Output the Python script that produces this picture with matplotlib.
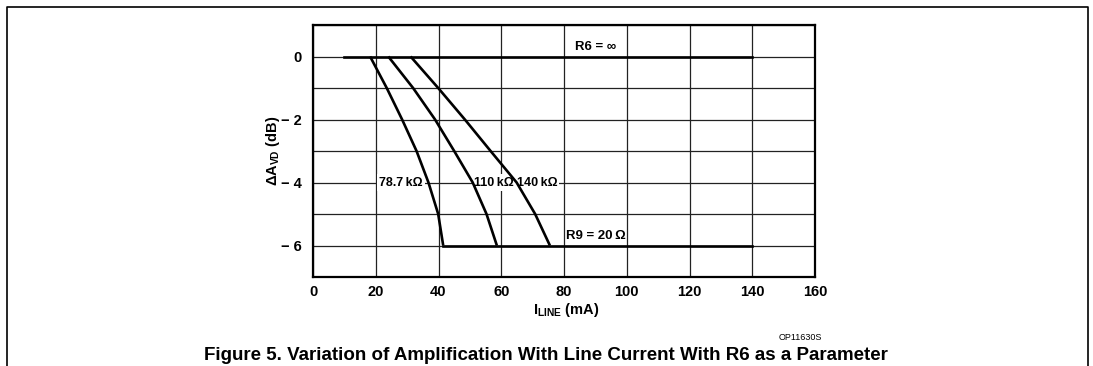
import numpy as np
import matplotlib
matplotlib.use("Agg")
import matplotlib.pyplot as plt
from matplotlib.lines import Line2D

plt.rcParams['font.family'] = ['Liberation Sans', 'DejaVu Sans']
plt.rcParams['font.weight'] = 'bold'
plt.rcParams['mathtext.fontset'] = 'custom'
plt.rcParams['mathtext.rm'] = 'Liberation Sans:bold'
plt.rcParams['mathtext.it'] = 'Liberation Sans:bold'
plt.rcParams['mathtext.bf'] = 'Liberation Sans:bold'

# data
r6_inf_x = [10, 140]
r6_inf_y = [0, 0]
r9_x = [41.5, 140]
r9_y = [-6, -6]

gain_db = [0, -1, -2, -3, -4, -5, -6]
i_787k = [18.2, 23.5, 28.4, 33.0, 36.8, 39.9, 41.5]
i_110k = [24.0, 31.9, 38.9, 45.0, 50.9, 55.3, 58.6]
i_140k = [31.1, 39.9, 48.4, 56.6, 64.9, 70.8, 75.5]

curve_labels = ['78.7\u2009k\u03a9', '110\u2009k\u03a9', '140\u2009k\u03a9']
label_x = [28.0, 57.6, 71.4]

x_ticks = [0, 20, 40, 60, 80, 100, 120, 140, 160]
y_ticks = [0, -2, -4, -6]
y_ticklabels = ['0', '\u2212 2', '\u2212 4', '\u2212 6']

fig = plt.figure(figsize=(10.93, 3.66), dpi=100)
ax = fig.add_axes([313/1093, 1-277/366, 502/1093, 252/366])

ax.set_xlim(0, 160)
ax.set_ylim(-7, 1)
ax.set_yticks(np.arange(-7, 2, 1), minor=True)
ax.set_xticks(x_ticks)
ax.set_xticklabels([str(v) for v in x_ticks])
ax.set_yticks(y_ticks)
ax.set_yticklabels(y_ticklabels)
ax.tick_params(which='both', length=0, labelsize=10.5)
ax.tick_params(axis='x', pad=6)
ax.tick_params(axis='y', pad=8)
ax.set_axisbelow(True)
ax.grid(True, which='both', color='#222222', lw=0.9)
for s in ax.spines.values():
    s.set_linewidth(1.6)

lw = 1.9
ax.plot(r6_inf_x, r6_inf_y, color='black', lw=lw, zorder=3)
ax.plot(r9_x, r9_y, color='black', lw=lw, zorder=3)
for xs in (i_787k, i_110k, i_140k):
    ax.plot(xs, gain_db, color='black', lw=lw, zorder=3, solid_capstyle='butt')

for lab, lx in zip(curve_labels, label_x):
    ax.text(lx, -4, lab, ha='center', va='center', fontsize=9, zorder=2.5,
            bbox=dict(facecolor='white', edgecolor='none', pad=1.5))

ax.text(90, 0.12, 'R6 = \u221e', ha='center', va='bottom', fontsize=9.5)
ax.text(90, -5.88, 'R9 = 20\u2009\u03a9', ha='center', va='bottom', fontsize=9.5)

fig.text(273/1093, 1-151/366, r'$\Delta A_{VD}$ (dB)', rotation=90,
         ha='center', va='center', fontsize=10.5)
fig.text(566/1093, 1-310/366, r'$I_{LINE}$ (mA)', ha='center', va='center',
         fontsize=10.5)
fig.text(800/1093, 1-337/366, 'OP11630S', ha='center', va='center',
         fontsize=6.5, fontweight='normal')
fig.text(546/1093, 1-355/366,
         'Figure 5. Variation of Amplification With Line Current With R6 as a Parameter',
         ha='center', va='center', fontsize=13.5, fontweight='bold')

# page frame
fl, fr, ft = 7/1093, 1088/1093, 1-7/366
fig.add_artist(Line2D([fl, fl, fr, fr], [0, ft, ft, 0], color='black', lw=1.2,
                      transform=fig.transFigure))

fig.savefig('out.png', dpi=100)
